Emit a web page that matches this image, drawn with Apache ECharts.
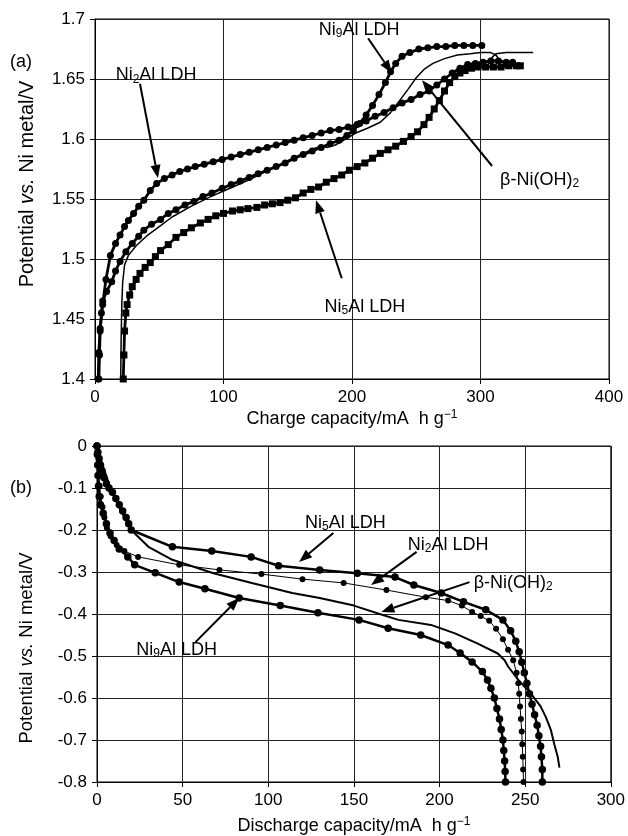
<!DOCTYPE html>
<html>
<head>
<meta charset="utf-8">
<script src="https://cdn.jsdelivr.net/npm/echarts@6/dist/echarts.min.js"></script>
<style>
  html, body { margin: 0; padding: 0; background: #fff; }
  #chart { width: 628px; height: 836px; }
</style>
</head>
<body>
<div id="chart"></div>
<script>
// (a) charge curves: [capacity mA h g-1, potential V]
const chargeNi2Al = [[2.5,1.400],[3,1.422],[4,1.442],[6,1.462],[8.5,1.483],[12,1.503],[16,1.513],[19.5,1.520],[23,1.527],[26,1.532],[30,1.538],[34,1.544],[38,1.549],[43,1.557],[48,1.563],[54,1.567],[60,1.570],[66,1.573],[72,1.575],[78,1.577],[85,1.579],[92,1.581],[99,1.583],[106,1.585],[113,1.587],[120,1.589],[127,1.591],[134,1.593],[141,1.595],[148,1.597],[155,1.599],[162,1.601],[169,1.603],[176,1.605],[183,1.607],[190,1.608],[197,1.610],[204,1.612],[211,1.615],[218,1.619],[225,1.622],[232,1.626],[239,1.630],[246,1.633],[253,1.637],[260,1.640],[266,1.645],[272,1.650],[278,1.655],[284,1.659],[290,1.662],[296,1.663],[302,1.664],[308,1.665],[314,1.665],[320,1.664],[325,1.664]];
const chargeNi9Al = [[3,1.400],[3.5,1.420],[4,1.440],[5,1.455],[6,1.465],[9,1.473],[13,1.481],[16,1.490],[19.5,1.498],[24,1.506],[29,1.513],[34,1.519],[38,1.524],[44,1.529],[51,1.533],[57,1.538],[63,1.541],[70,1.545],[77,1.548],[84,1.552],[91,1.555],[99,1.559],[106,1.562],[113,1.565],[120,1.568],[127,1.571],[134,1.574],[141,1.577],[148,1.580],[155,1.584],[162,1.587],[169,1.590],[176,1.593],[183,1.596],[190,1.599],[196,1.603],[201,1.607],[206,1.613],[211,1.620],[216,1.628],[221,1.637],[226,1.647],[230,1.656],[234,1.663],[239,1.669],[245,1.672],[252,1.675],[259,1.676],[266,1.677],[273,1.677],[280,1.678],[287,1.678],[294,1.678],[301,1.678]];
const chargeNi5Al = [[22,1.400],[22.5,1.420],[23,1.440],[24,1.455],[25,1.462],[27,1.470],[29,1.477],[32,1.483],[35,1.488],[39,1.493],[43,1.497],[47,1.502],[51,1.507],[57,1.512],[63,1.518],[69,1.522],[75,1.526],[82,1.530],[88,1.533],[94,1.536],[100,1.538],[107,1.540],[113,1.541],[119,1.542],[126,1.543],[132,1.545],[138,1.546],[144,1.547],[150,1.549],[156,1.551],[162,1.555],[168,1.558],[174,1.560],[180,1.564],[186,1.567],[192,1.570],[198,1.574],[204,1.577],[210,1.580],[216,1.584],[222,1.588],[228,1.591],[234,1.594],[240,1.598],[246,1.602],[251,1.606],[256,1.612],[260,1.618],[264,1.625],[268,1.632],[272,1.640],[276,1.647],[280,1.652],[284,1.655],[288,1.657],[293,1.659],[298,1.660],[304,1.660],[310,1.660],[316,1.660],[322,1.661],[328,1.661],[331,1.661]];
const chargeBetaNiOH2 = [[20,1.400],[20.3,1.430],[20.8,1.460],[21.5,1.480],[23,1.495],[26,1.503],[32,1.511],[40,1.519],[50,1.527],[60,1.535],[75,1.544],[90,1.552],[105,1.559],[120,1.566],[135,1.574],[150,1.582],[162,1.588],[170,1.592],[176,1.594],[181,1.593],[187,1.595],[195,1.600],[203,1.605],[212,1.609],[222,1.614],[230,1.622],[237,1.632],[244,1.642],[250,1.651],[256,1.658],[263,1.663],[272,1.667],[282,1.670],[292,1.671],[300,1.672],[308,1.672],[312,1.670],[314,1.667],[311,1.665],[308,1.667],[312,1.671],[320,1.672],[330,1.672],[341,1.672]];

// (b) discharge curves: [capacity mA h g-1, potential V]
const dischargeNi5Al = [[0,0],[0.5,-0.015],[1.2,-0.03],[2,-0.045],[3,-0.06],[4,-0.075],[5.5,-0.09],[7,-0.1],[9,-0.11],[11,-0.125],[13,-0.14],[15,-0.155],[17,-0.17],[18.5,-0.185],[20,-0.2],[44,-0.24],[67,-0.25],[90,-0.264],[106,-0.285],[130,-0.295],[152,-0.303],[174,-0.312],[185,-0.331],[201,-0.35],[214,-0.371],[227,-0.39],[237,-0.414],[241.5,-0.44],[244.5,-0.465],[246.5,-0.49],[248,-0.515],[249.5,-0.54],[251,-0.565],[252.5,-0.59],[254,-0.615],[255.5,-0.64],[257,-0.665],[258,-0.69],[259,-0.715],[259.5,-0.74],[260,-0.77],[260,-0.8]];
const dischargeNi2Al = [[0,0],[0.3,-0.02],[0.6,-0.045],[1,-0.07],[1.5,-0.095],[2.2,-0.12],[3.2,-0.145],[4.3,-0.17],[5.8,-0.195],[8,-0.215],[11.5,-0.236],[16,-0.25],[24,-0.264],[48,-0.283],[71.5,-0.295],[96,-0.305],[120,-0.317],[144,-0.326],[169,-0.343],[192,-0.36],[205,-0.368],[213,-0.38],[219,-0.395],[224,-0.405],[229,-0.416],[233,-0.435],[237,-0.46],[240,-0.485],[243,-0.51],[245,-0.54],[246,-0.565],[246.5,-0.59],[247,-0.62],[247.5,-0.65],[248,-0.68],[248.3,-0.71],[248.6,-0.74],[248.8,-0.77],[249,-0.8]];
const dischargeNi9Al = [[0,0],[0.2,-0.02],[0.4,-0.045],[0.6,-0.07],[0.9,-0.095],[1.3,-0.12],[2,-0.14],[3.6,-0.16],[5.5,-0.185],[7.6,-0.207],[10,-0.225],[13,-0.245],[18,-0.264],[22,-0.283],[34,-0.302],[48,-0.324],[63,-0.34],[83,-0.362],[107,-0.38],[129,-0.397],[153,-0.414],[170,-0.434],[189,-0.45],[205,-0.474],[212,-0.493],[219,-0.514],[225,-0.537],[228,-0.557],[230,-0.577],[232,-0.6],[233.5,-0.625],[235,-0.65],[236,-0.675],[237,-0.7],[237.5,-0.725],[238,-0.75],[238.3,-0.775],[238.5,-0.8]];
const dischargeBetaNiOH2 = [[0,0],[1,-0.015],[2.5,-0.035],[4.5,-0.06],[7,-0.09],[10,-0.12],[13.5,-0.15],[17,-0.178],[20,-0.2],[30,-0.24],[44,-0.271],[68,-0.303],[91,-0.327],[114,-0.35],[130,-0.362],[150,-0.38],[165,-0.4],[176,-0.414],[195,-0.426],[209,-0.446],[222,-0.47],[234,-0.494],[238,-0.51],[240,-0.525],[246,-0.557],[253,-0.588],[259,-0.62],[262,-0.645],[265,-0.676],[267,-0.71],[269,-0.74],[270,-0.766]];

// axis ranges: [min, max, interval]
const chargeCapRange = [0, 400, 100];
const chargePotRange = [1.4, 1.7, 0.05];
const dischargeCapRange = [0, 300, 50];
const dischargePotRange = [-0.8, 0, 0.1];

// callout labels: text key, label centre, arrow tail, arrow head (data units)
const chargeCallouts = [
  { key: 'Ni2', label: [47.5, 1.653], tail: [35, 1.646], head: [49, 1.5675] },
  { key: 'Ni9', label: [205.5, 1.691], tail: [212.5, 1.684], head: [231, 1.655] },
  { key: 'beta', label: [346, 1.566], tail: [309, 1.5775], head: [254.5, 1.649] },
  { key: 'Ni5', label: [210, 1.46], tail: [192, 1.484], head: [172, 1.549] }
];
const dischargeCallouts = [
  { key: 'Ni5', label: [145, -0.183], tail: [138, -0.207], head: [118, -0.276] },
  { key: 'Ni2', label: [205, -0.236], tail: [186.6, -0.252], head: [160, -0.331] },
  { key: 'beta', label: [243, -0.326], tail: [217.5, -0.324], head: [166, -0.395] },
  { key: 'Ni9', label: [46.5, -0.486], tail: [57.5, -0.467], head: [83, -0.362] }
];

const FONT = '"Liberation Sans", Arial, Helvetica, sans-serif';
function richSet(size) {
  const sub = Math.round(size * 0.66);
  return {
    n: { fontSize: size, fontFamily: FONT, color: '#000', lineHeight: size + 2 },
    s: { fontSize: sub, fontFamily: FONT, color: '#000', lineHeight: size + 2, verticalAlign: 'bottom' },
    i: { fontSize: size, fontFamily: FONT, color: '#000', fontStyle: 'italic', lineHeight: size + 2 },
    sup: { fontSize: sub, fontFamily: FONT, color: '#000', lineHeight: size + 2, verticalAlign: 'top' }
  };
}
const calloutText = {
  Ni2: '{n|Ni}{s|2}{n|Al LDH}',
  Ni5: '{n|Ni}{s|5}{n|Al LDH}',
  Ni9: '{n|Ni}{s|9}{n|Al LDH}',
  beta: '{n|β-Ni(OH)}{s|2}'
};

const chart = echarts.init(document.getElementById('chart'), null, { renderer: 'canvas' });

function valueAxis(range, gridIndex, fmt) {
  return {
    type: 'value', gridIndex: gridIndex,
    min: range[0], max: range[1], interval: range[2],
    axisLine: { show: true, onZero: false, lineStyle: { color: '#000', width: 1 } },
    axisTick: { show: true, length: 5, lineStyle: { color: '#000' } },
    axisLabel: { color: '#000', fontSize: 17, fontFamily: FONT, margin: 10, formatter: fmt },
    splitLine: { show: true, lineStyle: { color: '#222', width: 1 } }
  };
}

function markerSeries(data, xi, opts) {
  return Object.assign({
    type: 'line', xAxisIndex: xi, yAxisIndex: xi, data: data,
    smooth: false, animation: false, silent: true,
    symbol: 'circle', symbolSize: 7, showSymbol: true,
    itemStyle: { color: '#000' },
    lineStyle: { color: '#000', width: 2.8 }
  }, opts);
}

chart.setOption({
  backgroundColor: '#fff',
  animation: false,
  grid: [
    { left: 95, top: 19, width: 514, height: 360, show: true, borderColor: '#000', borderWidth: 1 },
    { left: 97, top: 446, width: 514, height: 336, show: true, borderColor: '#000', borderWidth: 1 }
  ],
  xAxis: [
    valueAxis(chargeCapRange, 0, v => String(v)),
    valueAxis(dischargeCapRange, 1, v => String(v))
  ],
  yAxis: [
    valueAxis(chargePotRange, 0, v => String(+v.toFixed(2))),
    valueAxis(dischargePotRange, 1, v => String(+v.toFixed(1)))
  ],
  series: [
    markerSeries(chargeBetaNiOH2, 0, { symbol: 'none', showSymbol: false, lineStyle: { color: '#000', width: 1.5 } }),
    markerSeries(chargeNi2Al, 0, {}),
    markerSeries(chargeNi9Al, 0, {}),
    markerSeries(chargeNi5Al, 0, { symbol: 'rect', symbolSize: 7 }),
    markerSeries(dischargeBetaNiOH2, 1, { symbol: 'none', showSymbol: false, lineStyle: { color: '#000', width: 2 } }),
    markerSeries(dischargeNi2Al, 1, { symbolSize: 6, lineStyle: { color: '#000', width: 1 } }),
    markerSeries(dischargeNi5Al, 1, { symbolSize: 7.5, lineStyle: { color: '#000', width: 2.5 } }),
    markerSeries(dischargeNi9Al, 1, { symbolSize: 7.5, lineStyle: { color: '#000', width: 2.5 } })
  ]
});

// callouts, axis titles and panel tags
function arrow(p0, p1) {
  const dx = p1[0] - p0[0], dy = p1[1] - p0[1];
  const len = Math.sqrt(dx * dx + dy * dy);
  const ux = dx / len, uy = dy / len;
  const hl = 13, hw = 5;
  const bx = p1[0] - ux * hl, by = p1[1] - uy * hl;
  return [
    { type: 'line', silent: true, shape: { x1: p0[0], y1: p0[1], x2: bx, y2: by }, style: { stroke: '#000', lineWidth: 2 } },
    { type: 'polygon', silent: true, shape: { points: [[p1[0], p1[1]], [bx - uy * hw, by + ux * hw], [bx + uy * hw, by - ux * hw]] }, style: { fill: '#000' } }
  ];
}
function textEl(x, y, text, size, rotation) {
  return {
    type: 'text', silent: true, x: x, y: y, rotation: rotation || 0,
    style: { text: text, rich: richSet(size), align: 'center', verticalAlign: 'middle', fill: '#000', font: size + 'px ' + FONT }
  };
}

const elements = [];
[[chargeCallouts, 0], [dischargeCallouts, 1]].forEach(([list, gi]) => {
  list.forEach(c => {
    const lp = chart.convertToPixel({ gridIndex: gi }, c.label);
    const tp = chart.convertToPixel({ gridIndex: gi }, c.tail);
    const hp = chart.convertToPixel({ gridIndex: gi }, c.head);
    elements.push(textEl(lp[0], lp[1], calloutText[c.key], 18));
    arrow(tp, hp).forEach(e => elements.push(e));
  });
});

const yTitle = '{n|Potential }{i|vs.}{n| Ni metal/V}';
elements.push(textEl(27, 184, yTitle, 20, Math.PI / 2));
elements.push(textEl(27, 648, yTitle, 18.5, Math.PI / 2));
elements.push(textEl(352, 419, '{n|Charge capacity/mA  h g}{sup|−1}', 18));
elements.push(textEl(354, 826, '{n|Discharge capacity/mA  h g}{sup|−1}', 18));
elements.push(textEl(21, 62, '{n|(a)}', 18));
elements.push(textEl(21, 488, '{n|(b)}', 18));

chart.setOption({ graphic: { elements: elements } });
</script>
</body>
</html>
